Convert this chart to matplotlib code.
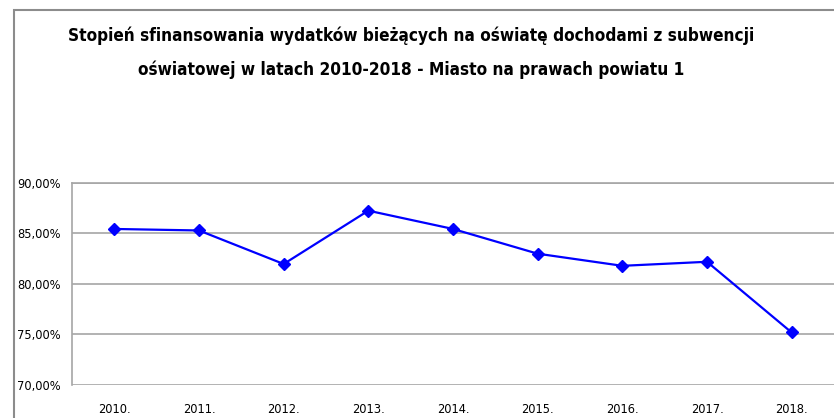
import matplotlib
matplotlib.use("Agg")
import matplotlib.pyplot as plt
from matplotlib.patches import Rectangle
from matplotlib.ticker import FuncFormatter, MultipleLocator

plt.rcParams['font.family'] = ['DejaVu Sans']
plt.rcParams['font.stretch'] = 'condensed'

years = ["2010.", "2011.", "2012.", "2013.", "2014.", "2015.", "2016.", "2017.", "2018."]
values = [85.45, 85.30, 81.98, 87.26, 85.45, 83.00, 81.80, 82.20, 75.20]
title = ("Stopień sfinansowania wydatków bieżących na oświatę dochodami z subwencji\n"
         "oświatowej w latach 2010-2018 - Miasto na prawach powiatu 1")

W, H = 834, 418
fig = plt.figure(figsize=(W / 100, H / 100), dpi=100)

# outer chart frame (partially cut off at right and bottom)
frame = Rectangle((13.5 / W, -0.2), 1.2, (H - 10) / H + 0.2, transform=fig.transFigure,
                  fill=False, edgecolor='#8c8c8c', linewidth=1.5, clip_on=False)
fig.patches.append(frame)

ax = fig.add_axes([72 / W, 1 - 385 / H, (834 - 72) / W, (385 - 183) / H])
x = list(range(len(years)))
ax.plot(x, values, color='#0000ff', linewidth=1.6, marker='D', markersize=6,
        markerfacecolor='#0000ff', markeredgecolor='#0000ff')

ax.set_xlim(-0.5, len(years) - 0.5)
ax.set_ylim(70, 90)
ax.yaxis.set_major_locator(MultipleLocator(5))
ax.yaxis.set_major_formatter(FuncFormatter(lambda v, p: f"{v:.2f}%".replace('.', ',')))
ax.set_xticks(x)
ax.set_xticklabels(years)
ax.grid(axis='y', color='#a6a6a6', linewidth=1.2)
ax.set_axisbelow(True)
for s in ['right', 'bottom']:
    ax.spines[s].set_visible(False)
ax.spines['top'].set_color('#a6a6a6')
ax.spines['left'].set_color('#a6a6a6')
ax.spines['top'].set_linewidth(1.2)
ax.spines['left'].set_linewidth(1.2)
ax.tick_params(axis='both', length=0, labelsize=9.2, colors='black')
ax.tick_params(axis='y', pad=8)
ax.tick_params(axis='x', pad=13)

fig.text(411 / W, 1 - 53 / H, title, ha='center', va='center', fontsize=12.3,
         fontweight='bold', linespacing=2.05)

fig.savefig('out.png', dpi=100)
